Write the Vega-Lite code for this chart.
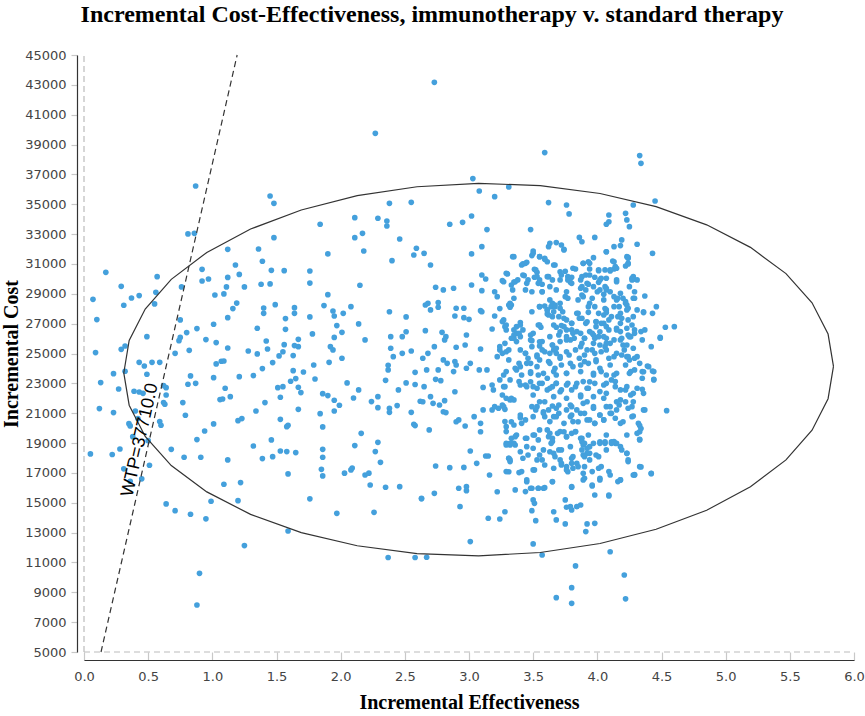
{
"$schema":"https://vega.github.io/schema/vega-lite/v6.json",
"width":770,"height":597,
"autosize":{"type":"none"},
"padding":{"left":84,"top":55,"right":11,"bottom":64},
"background":"white",
"title":{"text":"Incremental Cost-Effectiveness, immunotherapy v. standard therapy","font":"Liberation Serif","fontSize":24,"fontWeight":"bold","color":"#000","offset":22,"dx":-37},
"config":{"view":{"stroke":null}},
"datasets":{
"pts":[
{"x":0.87,"y":36220},{"x":1.45,"y":35550},{"x":1.48,"y":35060},{"x":0.81,"y":33010},{"x":0.86,"y":33050},{"x":2.38,"y":35060},{"x":2.55,"y":35130},{"x":1.84,"y":33660},{"x":2.11,"y":34100},{"x":2.29,"y":34060},{"x":2.36,"y":33880},{"x":2.36,"y":33540},{"x":2.17,"y":33050},{"x":2.11,"y":32760},{"x":2.46,"y":32670},{"x":1.48,"y":32760},{"x":1.12,"y":31980},{"x":1.36,"y":32000},{"x":2.18,"y":31870},{"x":2.59,"y":32050},{"x":2.57,"y":31600},{"x":1.90,"y":31670},{"x":2.40,"y":31220},{"x":1.39,"y":31180},{"x":1.18,"y":30930},{"x":0.17,"y":30440},{"x":0.92,"y":30640},{"x":1.46,"y":30570},{"x":1.56,"y":30550},{"x":1.76,"y":30530},{"x":1.21,"y":30300},{"x":1.12,"y":30100},{"x":0.57,"y":30150},{"x":0.92,"y":29860},{"x":0.97,"y":29990},{"x":0.29,"y":29500},{"x":0.76,"y":29460},{"x":1.11,"y":29460},{"x":1.25,"y":29460},{"x":1.38,"y":29640},{"x":1.45,"y":29660},{"x":1.76,"y":29720},{"x":2.15,"y":29570},{"x":0.56,"y":29100},{"x":0.43,"y":28880},{"x":0.37,"y":28720},{"x":0.31,"y":28230},{"x":0.55,"y":28320},{"x":0.07,"y":28630},{"x":1.02,"y":28920},{"x":1.09,"y":28990},{"x":1.90,"y":28940},{"x":1.19,"y":28380},{"x":1.16,"y":28010},{"x":1.49,"y":28270},{"x":1.40,"y":28050},{"x":1.40,"y":27690},{"x":1.64,"y":28070},{"x":1.64,"y":27690},{"x":1.87,"y":28210},{"x":1.94,"y":27850},{"x":2.08,"y":28140},{"x":2.02,"y":27690},{"x":1.95,"y":27510},{"x":0.10,"y":27270},{"x":1.12,"y":27400},{"x":1.57,"y":27340},{"x":1.76,"y":27450},{"x":2.38,"y":27800},{"x":2.51,"y":27450},{"x":0.75,"y":27250},{"x":2.14,"y":26980},{"x":1.01,"y":26960},{"x":1.97,"y":26870},{"x":1.35,"y":26690},{"x":1.57,"y":26620},{"x":2.01,"y":26420},{"x":1.78,"y":26310},{"x":0.80,"y":26400},{"x":0.88,"y":26670},{"x":0.49,"y":26130},{"x":0.75,"y":26080},{"x":0.74,"y":25860},{"x":0.95,"y":25930},{"x":1.42,"y":25840},{"x":1.03,"y":25730},{"x":1.67,"y":25950},{"x":1.95,"y":26080},{"x":2.19,"y":25910},{"x":2.39,"y":26130},{"x":2.48,"y":26130},{"x":2.51,"y":26460},{"x":1.56,"y":25590},{"x":1.64,"y":25530},{"x":1.67,"y":25460},{"x":1.12,"y":25370},{"x":1.43,"y":25300},{"x":1.92,"y":25460},{"x":1.94,"y":25240},{"x":2.39,"y":25350},{"x":0.09,"y":25060},{"x":0.29,"y":25280},{"x":0.32,"y":25500},{"x":0.82,"y":25210},{"x":1.28,"y":25170},{"x":1.55,"y":25120},{"x":0.71,"y":25010},{"x":1.35,"y":24970},{"x":1.52,"y":24840},{"x":1.63,"y":24860},{"x":2.48,"y":25010},{"x":2.55,"y":25170},{"x":2.41,"y":24790},{"x":0.43,"y":24410},{"x":0.47,"y":24160},{"x":0.53,"y":24410},{"x":0.59,"y":24410},{"x":1.47,"y":24390},{"x":1.03,"y":24300},{"x":1.07,"y":24480},{"x":1.09,"y":24500},{"x":1.79,"y":24230},{"x":1.91,"y":24410},{"x":2.01,"y":24680},{"x":2.37,"y":24210},{"x":2.37,"y":23900},{"x":0.23,"y":23650},{"x":0.32,"y":23810},{"x":0.49,"y":23610},{"x":1.39,"y":23990},{"x":1.63,"y":23850},{"x":1.71,"y":23760},{"x":2.58,"y":23740},{"x":0.83,"y":23500},{"x":1.01,"y":23380},{"x":1.21,"y":23450},{"x":1.32,"y":23520},{"x":1.65,"y":23320},{"x":1.80,"y":23290},{"x":2.35,"y":23200},{"x":0.13,"y":23050},{"x":0.81,"y":22940},{"x":0.87,"y":23000},{"x":1.51,"y":22710},{"x":1.55,"y":22780},{"x":1.61,"y":23140},{"x":1.67,"y":22740},{"x":2.05,"y":23030},{"x":2.51,"y":23030},{"x":2.58,"y":22920},{"x":2.45,"y":22560},{"x":0.27,"y":22620},{"x":0.39,"y":22470},{"x":0.43,"y":22420},{"x":0.46,"y":22330},{"x":0.62,"y":22850},{"x":0.64,"y":22710},{"x":0.64,"y":22220},{"x":1.10,"y":22670},{"x":2.14,"y":22560},{"x":0.12,"y":21310},{"x":0.23,"y":21040},{"x":0.40,"y":21150},{"x":0.62,"y":21710},{"x":0.63,"y":21600},{"x":0.77,"y":21710},{"x":1.06,"y":21910},{"x":1.08,"y":21950},{"x":1.14,"y":22110},{"x":1.41,"y":21710},{"x":1.53,"y":22070},{"x":1.69,"y":22380},{"x":1.86,"y":22310},{"x":1.90,"y":22180},{"x":1.95,"y":21870},{"x":1.99,"y":21530},{"x":2.10,"y":22020},{"x":2.24,"y":21780},{"x":2.29,"y":22110},{"x":2.29,"y":21370},{"x":2.38,"y":21330},{"x":2.38,"y":21060},{"x":2.44,"y":21510},{"x":2.55,"y":21060},{"x":2.62,"y":21800},{"x":0.35,"y":20300},{"x":0.36,"y":20150},{"x":0.42,"y":20640},{"x":0.59,"y":20440},{"x":0.60,"y":20190},{"x":0.79,"y":20860},{"x":1.01,"y":20280},{"x":1.20,"y":20500},{"x":1.23,"y":20640},{"x":1.34,"y":21150},{"x":1.53,"y":20590},{"x":1.58,"y":20100},{"x":1.59,"y":20190},{"x":1.67,"y":21260},{"x":1.84,"y":20970},{"x":1.86,"y":20080},{"x":1.95,"y":21150},{"x":2.57,"y":20260},{"x":2.58,"y":20170},{"x":0.38,"y":19430},{"x":0.50,"y":19160},{"x":0.88,"y":19230},{"x":0.94,"y":19810},{"x":1.46,"y":19210},{"x":2.16,"y":19650},{"x":0.05,"y":18270},{"x":0.22,"y":18230},{"x":0.28,"y":18600},{"x":0.68,"y":18580},{"x":0.78,"y":18050},{"x":0.91,"y":18050},{"x":1.12,"y":17870},{"x":1.32,"y":18800},{"x":1.39,"y":17960},{"x":1.47,"y":18090},{"x":1.53,"y":18470},{"x":1.58,"y":18430},{"x":1.65,"y":18360},{"x":1.86,"y":18580},{"x":1.86,"y":18050},{"x":2.11,"y":18830},{"x":2.27,"y":18430},{"x":2.29,"y":19050},{"x":2.31,"y":17710},{"x":0.51,"y":17510},{"x":0.31,"y":17270},{"x":0.45,"y":16600},{"x":0.36,"y":16440},{"x":1.59,"y":16930},{"x":1.85,"y":17240},{"x":1.86,"y":16800},{"x":2.03,"y":16980},{"x":2.08,"y":17200},{"x":2.09,"y":17330},{"x":2.19,"y":16860},{"x":2.22,"y":16980},{"x":2.63,"y":15260},{"x":1.09,"y":16240},{"x":1.22,"y":16350},{"x":2.23,"y":16190},{"x":2.35,"y":16040},{"x":2.46,"y":16080},{"x":0.64,"y":14920},{"x":0.71,"y":14470},{"x":0.83,"y":14230},{"x":0.95,"y":13920},{"x":0.99,"y":15100},{"x":1.20,"y":15140},{"x":1.76,"y":15260},{"x":1.97,"y":14290},{"x":2.26,"y":14360},{"x":1.59,"y":13110},{"x":1.25,"y":12130},{"x":2.37,"y":11330},{"x":2.58,"y":11330},{"x":2.67,"y":11350},{"x":0.90,"y":10270},{"x":0.88,"y":8150},
{"x":2.73,"y":43170},{"x":2.27,"y":39750},{"x":3.59,"y":38460},{"x":3.03,"y":36720},{"x":3.31,"y":36160},{"x":4.33,"y":38260},{"x":4.34,"y":37740},{"x":4.36,"y":27740},{"x":4.53,"y":26760},{"x":4.60,"y":26800},{"x":4.49,"y":26090},{"x":4.28,"y":29970},{"x":4.24,"y":31380},
{"x":3.08,"y":35890},{"x":3.20,"y":35510},{"x":3.62,"y":35110},{"x":3.76,"y":34950},{"x":3.78,"y":34350},{"x":4.28,"y":34950},{"x":4.45,"y":35220},{"x":4.09,"y":34280},{"x":4.07,"y":33660},{"x":4.09,"y":33830},{"x":4.22,"y":34390},{"x":4.23,"y":33950},{"x":4.25,"y":33500},{"x":2.85,"y":33660},{"x":2.95,"y":33790},{"x":3.02,"y":34210},{"x":3.14,"y":33300},{"x":3.48,"y":33300},{"x":3.86,"y":32780},{"x":3.88,"y":32490},{"x":3.98,"y":32780},{"x":4.19,"y":32610},{"x":4.18,"y":32230},{"x":4.31,"y":32320},{"x":4.13,"y":32160},{"x":4.07,"y":31820},{"x":3.63,"y":32380},{"x":3.68,"y":32430},{"x":3.72,"y":32270},{"x":3.74,"y":31980},{"x":3.62,"y":32160},{"x":3.10,"y":32160},{"x":3.02,"y":31670},{"x":2.65,"y":31710},{"x":2.70,"y":30930},{"x":3.50,"y":31870},{"x":3.49,"y":31560},{"x":3.55,"y":31490},{"x":3.59,"y":31310},{"x":3.61,"y":31150},{"x":3.34,"y":31490},{"x":3.97,"y":31420},{"x":3.93,"y":31150},{"x":3.89,"y":31040},{"x":4.23,"y":31490},{"x":4.24,"y":31040},{"x":4.12,"y":31200},{"x":4.13,"y":30660},{"x":4.15,"y":30710},{"x":4.43,"y":31710},{"x":3.42,"y":31000},{"x":3.45,"y":31110},{"x":3.51,"y":30640},{"x":3.53,"y":30440},{"x":3.67,"y":30930},{"x":3.83,"y":30660},{"x":3.75,"y":30510},{"x":3.77,"y":30150},{"x":3.94,"y":30660},{"x":4.01,"y":30550},{"x":4.06,"y":30600},{"x":3.10,"y":30260},{"x":3.13,"y":29990},{"x":3.26,"y":29880},{"x":3.30,"y":30330},{"x":3.38,"y":29930},{"x":3.35,"y":29790},{"x":3.43,"y":30220},{"x":3.46,"y":29930},{"x":3.51,"y":30110},{"x":3.55,"y":29930},{"x":3.57,"y":29640},{"x":3.62,"y":30150},{"x":3.65,"y":29930},{"x":3.71,"y":29930},{"x":3.80,"y":30110},{"x":3.79,"y":29770},{"x":3.87,"y":29930},{"x":3.91,"y":30260},{"x":3.93,"y":29640},{"x":3.98,"y":30110},{"x":4.01,"y":29770},{"x":4.03,"y":30040},{"x":4.06,"y":29480},{"x":4.10,"y":30530},{"x":4.15,"y":29930},{"x":4.28,"y":30150},{"x":4.27,"y":29930},{"x":4.22,"y":30860},{"x":2.74,"y":29440},{"x":2.80,"y":29260},{"x":2.88,"y":29370},{"x":3.02,"y":29590},{"x":3.10,"y":29210},{"x":3.20,"y":29140},{"x":3.22,"y":28810},{"x":3.33,"y":29590},{"x":3.34,"y":29260},{"x":3.44,"y":29260},{"x":3.49,"y":29140},{"x":3.57,"y":29140},{"x":3.68,"y":29260},{"x":3.76,"y":29140},{"x":3.77,"y":28700},{"x":3.88,"y":29480},{"x":3.91,"y":29260},{"x":3.88,"y":28920},{"x":3.96,"y":28700},{"x":4.02,"y":29260},{"x":4.05,"y":28970},{"x":4.07,"y":29260},{"x":4.13,"y":28810},{"x":4.15,"y":28590},{"x":4.20,"y":28700},{"x":4.22,"y":28480},{"x":4.23,"y":28250},{"x":4.29,"y":28700},{"x":4.37,"y":28850},{"x":4.46,"y":28140},{"x":2.66,"y":28250},{"x":2.68,"y":28360},{"x":2.76,"y":28410},{"x":2.76,"y":28100},{"x":2.70,"y":27920},{"x":2.90,"y":28030},{"x":2.96,"y":28030},{"x":2.89,"y":27510},{"x":2.96,"y":27400},{"x":3.00,"y":27290},{"x":3.09,"y":27870},{"x":3.24,"y":28010},{"x":3.33,"y":28250},{"x":3.32,"y":28100},{"x":3.20,"y":27510},{"x":3.55,"y":28140},{"x":3.59,"y":28180},{"x":3.61,"y":27920},{"x":3.64,"y":28140},{"x":3.67,"y":28250},{"x":3.61,"y":27650},{"x":3.65,"y":27470},{"x":3.71,"y":28030},{"x":3.73,"y":27800},{"x":3.74,"y":27360},{"x":3.84,"y":27690},{"x":3.86,"y":27360},{"x":3.93,"y":28140},{"x":3.93,"y":27760},{"x":4.01,"y":27690},{"x":4.06,"y":28010},{"x":4.07,"y":27740},{"x":4.11,"y":27470},{"x":4.17,"y":28140},{"x":4.18,"y":27690},{"x":4.19,"y":27360},{"x":4.23,"y":27920},{"x":4.24,"y":27250},{"x":4.36,"y":27800},{"x":4.43,"y":27690},{"x":3.26,"y":27140},{"x":3.28,"y":26800},{"x":3.29,"y":26580},{"x":3.37,"y":26800},{"x":3.40,"y":27070},{"x":3.18,"y":26640},{"x":3.10,"y":27800},{"x":2.66,"y":26530},{"x":2.79,"y":26420},{"x":2.82,"y":26130},{"x":2.81,"y":25910},{"x":2.90,"y":25420},{"x":2.98,"y":26240},{"x":2.97,"y":25570},{"x":3.09,"y":25300},{"x":2.73,"y":25460},{"x":2.68,"y":25010},{"x":2.64,"y":24680},{"x":3.35,"y":26580},{"x":3.37,"y":26350},{"x":3.40,"y":26130},{"x":3.37,"y":25800},{"x":3.35,"y":26020},{"x":3.48,"y":26240},{"x":3.55,"y":26910},{"x":3.56,"y":26760},{"x":3.66,"y":26910},{"x":3.68,"y":26760},{"x":3.72,"y":26870},{"x":3.76,"y":26580},{"x":3.80,"y":27020},{"x":3.80,"y":26580},{"x":3.84,"y":26470},{"x":3.91,"y":27020},{"x":3.94,"y":26470},{"x":3.99,"y":27140},{"x":3.99,"y":26800},{"x":4.05,"y":27020},{"x":4.07,"y":26800},{"x":4.09,"y":26580},{"x":4.15,"y":26690},{"x":4.18,"y":26470},{"x":4.24,"y":26240},{"x":4.27,"y":26910},{"x":4.29,"y":26580},{"x":4.34,"y":26470},{"x":4.35,"y":25910},{"x":4.37,"y":26580},{"x":4.42,"y":25460},{"x":3.49,"y":25860},{"x":3.55,"y":25500},{"x":3.57,"y":25800},{"x":3.63,"y":26130},{"x":3.65,"y":25570},{"x":3.66,"y":25240},{"x":3.70,"y":26240},{"x":3.71,"y":25800},{"x":3.76,"y":25910},{"x":3.81,"y":26350},{"x":3.82,"y":26020},{"x":3.88,"y":25680},{"x":3.90,"y":26020},{"x":3.92,"y":25240},{"x":3.97,"y":26240},{"x":3.97,"y":25680},{"x":4.01,"y":26130},{"x":4.02,"y":25570},{"x":4.06,"y":25460},{"x":4.07,"y":26020},{"x":4.10,"y":25680},{"x":4.18,"y":25910},{"x":4.20,"y":25570},{"x":4.21,"y":25240},{"x":4.26,"y":26130},{"x":4.28,"y":25350},{"x":3.24,"y":25460},{"x":3.26,"y":25010},{"x":3.29,"y":25120},{"x":3.22,"y":24790},{"x":3.44,"y":25010},{"x":3.46,"y":24680},{"x":3.48,"y":24340},{"x":3.53,"y":24900},{"x":3.55,"y":24570},{"x":3.59,"y":25120},{"x":3.62,"y":24460},{"x":3.68,"y":25010},{"x":3.71,"y":24680},{"x":3.78,"y":24900},{"x":3.79,"y":24340},{"x":3.86,"y":24680},{"x":3.90,"y":24460},{"x":3.98,"y":25010},{"x":3.99,"y":24460},{"x":4.09,"y":24680},{"x":4.15,"y":25010},{"x":4.23,"y":24790},{"x":4.25,"y":24570},{"x":4.31,"y":24790},{"x":4.33,"y":24340},{"x":4.40,"y":24120},{"x":2.80,"y":24570},{"x":2.83,"y":24340},{"x":2.89,"y":24460},{"x":2.90,"y":24230},{"x":3.01,"y":24340},{"x":2.88,"y":23790},{"x":2.98,"y":24010},{"x":3.08,"y":23900},{"x":3.14,"y":23900},{"x":2.67,"y":23900},{"x":2.76,"y":23900},{"x":3.29,"y":23790},{"x":3.37,"y":23900},{"x":3.40,"y":24120},{"x":3.48,"y":23670},{"x":3.54,"y":23560},{"x":3.66,"y":23790},{"x":3.68,"y":23560},{"x":3.76,"y":23670},{"x":3.87,"y":23790},{"x":3.97,"y":23560},{"x":4.03,"y":23790},{"x":4.13,"y":23560},{"x":4.26,"y":23790},{"x":4.35,"y":23790},{"x":4.44,"y":23790},
{"x":2.74,"y":23270},{"x":2.78,"y":23180},{"x":2.65,"y":22780},{"x":2.89,"y":22440},{"x":3.11,"y":22730},{"x":3.18,"y":22890},{"x":3.19,"y":22560},{"x":3.24,"y":23230},{"x":3.27,"y":22780},{"x":3.32,"y":23230},{"x":3.40,"y":22890},{"x":3.45,"y":22780},{"x":3.48,"y":23110},{"x":3.53,"y":22670},{"x":3.57,"y":23000},{"x":3.61,"y":22560},{"x":3.65,"y":22780},{"x":3.68,"y":23000},{"x":3.71,"y":22440},{"x":3.76,"y":22890},{"x":3.80,"y":22560},{"x":3.84,"y":23000},{"x":3.87,"y":22220},{"x":3.92,"y":22670},{"x":3.94,"y":23110},{"x":3.97,"y":22110},{"x":4.05,"y":22890},{"x":4.07,"y":22330},{"x":4.11,"y":23230},{"x":4.14,"y":22780},{"x":4.18,"y":21890},{"x":4.22,"y":22560},{"x":4.26,"y":22220},{"x":4.28,"y":21770},{"x":4.31,"y":22670},{"x":4.36,"y":22330},{"x":4.35,"y":23340},{"x":4.44,"y":23230},{"x":2.64,"y":21770},{"x":2.70,"y":22110},{"x":2.72,"y":21660},{"x":2.77,"y":21550},{"x":2.81,"y":21840},{"x":2.80,"y":21100},{"x":2.82,"y":21040},{"x":2.90,"y":20430},{"x":2.92,"y":20550},{"x":2.97,"y":20140},{"x":3.04,"y":20770},{"x":3.09,"y":20320},{"x":3.11,"y":21220},{"x":3.09,"y":19760},{"x":2.69,"y":19880},{"x":3.18,"y":21220},{"x":3.20,"y":21440},{"x":3.23,"y":21330},{"x":3.26,"y":21550},{"x":3.28,"y":21260},{"x":3.32,"y":21890},{"x":3.33,"y":22000},{"x":3.29,"y":20100},{"x":3.33,"y":20430},{"x":3.40,"y":20700},{"x":3.41,"y":20320},{"x":3.37,"y":19540},{"x":3.49,"y":21440},{"x":3.52,"y":21220},{"x":3.55,"y":21770},{"x":3.58,"y":21100},{"x":3.59,"y":20770},{"x":3.62,"y":21220},{"x":3.65,"y":21480},{"x":3.66,"y":20770},{"x":3.68,"y":21330},{"x":3.70,"y":20990},{"x":3.76,"y":21220},{"x":3.79,"y":21550},{"x":3.80,"y":20880},{"x":3.84,"y":21220},{"x":3.85,"y":20430},{"x":3.89,"y":21660},{"x":3.90,"y":20990},{"x":3.94,"y":20550},{"x":3.97,"y":21330},{"x":3.98,"y":20320},{"x":4.02,"y":20880},{"x":4.05,"y":20550},{"x":4.07,"y":21440},{"x":4.11,"y":20990},{"x":4.15,"y":21220},{"x":4.17,"y":21550},{"x":4.20,"y":20430},{"x":4.24,"y":21330},{"x":4.28,"y":20810},{"x":4.32,"y":20320},{"x":4.33,"y":19760},{"x":4.36,"y":21220},{"x":4.33,"y":19210},{"x":3.45,"y":19320},{"x":3.51,"y":19540},{"x":3.54,"y":19210},{"x":3.61,"y":19880},{"x":3.62,"y":19430},{"x":3.64,"y":18980},{"x":3.65,"y":19320},{"x":3.69,"y":19650},{"x":3.74,"y":19760},{"x":3.76,"y":19430},{"x":3.80,"y":19650},{"x":3.83,"y":19760},{"x":3.87,"y":19320},{"x":3.88,"y":19090},{"x":3.89,"y":18870},{"x":3.92,"y":18650},{"x":3.94,"y":18760},{"x":3.97,"y":18980},{"x":4.02,"y":19090},{"x":4.06,"y":19090},{"x":4.11,"y":19090},{"x":4.14,"y":18980},{"x":4.18,"y":18760},{"x":4.23,"y":18310},{"x":4.24,"y":17870},{"x":4.33,"y":17420},{"x":4.42,"y":16970},{"x":4.28,"y":16860},{"x":3.29,"y":18980},{"x":3.32,"y":18870},{"x":3.36,"y":18870},{"x":3.33,"y":19320},{"x":3.01,"y":18470},{"x":3.13,"y":18130},{"x":3.15,"y":18130},{"x":3.31,"y":17980},{"x":3.32,"y":17870},{"x":2.74,"y":17460},{"x":2.85,"y":17350},{"x":2.96,"y":17370},{"x":3.06,"y":17640},{"x":3.40,"y":18420},{"x":3.42,"y":17980},{"x":3.46,"y":18200},{"x":3.53,"y":17870},{"x":3.55,"y":18200},{"x":3.63,"y":18420},{"x":3.67,"y":18090},{"x":3.70,"y":18540},{"x":3.71,"y":17870},{"x":3.72,"y":17530},{"x":3.76,"y":17420},{"x":3.77,"y":17080},{"x":3.80,"y":17980},{"x":3.81,"y":17310},{"x":3.84,"y":17640},{"x":3.89,"y":18200},{"x":3.90,"y":17420},{"x":3.92,"y":18310},{"x":3.94,"y":17870},{"x":4.01,"y":18090},{"x":4.03,"y":17420},{"x":4.07,"y":18540},{"x":4.10,"y":16860},{"x":4.18,"y":16530},{"x":4.19,"y":18540},{"x":3.16,"y":16860},{"x":3.22,"y":15740},{"x":3.31,"y":17080},{"x":3.39,"y":17020},{"x":3.45,"y":16410},{"x":3.48,"y":15970},{"x":3.51,"y":17200},{"x":3.54,"y":15970},{"x":3.59,"y":16010},{"x":3.65,"y":16410},{"x":3.80,"y":16040},{"x":3.90,"y":16640},{"x":3.96,"y":16120},{"x":4.02,"y":16640},{"x":3.98,"y":15520},{"x":4.09,"y":15450},{"x":2.92,"y":15970},{"x":2.98,"y":16080},{"x":2.98,"y":15810},{"x":2.93,"y":14740},{"x":2.73,"y":15630},{"x":2.63,"y":15300},{"x":3.15,"y":13960},{"x":3.24,"y":13910},{"x":3.28,"y":14400},{"x":3.49,"y":14470},{"x":3.51,"y":14960},{"x":3.52,"y":13800},{"x":3.66,"y":14400},{"x":3.68,"y":13850},{"x":3.75,"y":13580},{"x":3.76,"y":14700},{"x":3.80,"y":14520},{"x":3.84,"y":14740},{"x":3.92,"y":13580},{"x":3.91,"y":13070},{"x":3.98,"y":13620},{"x":3.01,"y":12400},{"x":3.50,"y":12240},{"x":3.57,"y":11500},{"x":4.10,"y":11720},{"x":3.83,"y":10770},{"x":3.80,"y":9310},{"x":3.80,"y":8260},{"x":4.21,"y":10160},{"x":4.22,"y":8560},{"x":3.68,"y":8640},
{"x":4.49,"y":26020},{"x":4.39,"y":24160},{"x":4.43,"y":23830},{"x":4.44,"y":23270},{"x":4.36,"y":23780},{"x":4.35,"y":22600},{"x":4.54,"y":21170},{"x":4.37,"y":21220},{"x":4.33,"y":20170},{"x":4.34,"y":19970},{"x":4.33,"y":19250},{"x":4.34,"y":17400},{"x":4.29,"y":16880},{"x":4.42,"y":16950},
{"x":3.35,"y":31490},{"x":3.50,"y":31710},{"x":3.55,"y":31490},{"x":3.59,"y":31380},{"x":3.74,"y":31935},{"x":4.07,"y":31820},{"x":4.24,"y":31440},{"x":4.13,"y":31150},{"x":3.44,"y":31040},{"x":3.41,"y":30930},{"x":3.66,"y":30930},{"x":3.89,"y":31040},{"x":3.94,"y":31040},{"x":4.24,"y":31000},
{"x":3.29,"y":30370},{"x":3.36,"y":29810},{"x":3.42,"y":30260},{"x":3.52,"y":30600},{"x":3.53,"y":30150},{"x":3.61,"y":30150},{"x":3.71,"y":30480},{"x":3.72,"y":30260},{"x":3.81,"y":30710},{"x":3.88,"y":30150},{"x":3.94,"y":30260},{"x":4.01,"y":30600},{"x":4.02,"y":29930},{"x":4.07,"y":30040},{"x":4.10,"y":30600},{"x":4.14,"y":30820},{"x":4.15,"y":29810},{"x":4.27,"y":30040},{"x":4.31,"y":29930},
{"x":3.27,"y":29810},{"x":3.45,"y":29700},{"x":3.54,"y":29700},{"x":3.63,"y":29480},{"x":3.77,"y":29930},{"x":3.80,"y":29700},{"x":3.87,"y":29370},{"x":3.92,"y":29700},{"x":3.97,"y":29480},{"x":4.07,"y":29370},{"x":4.25,"y":29480},{"x":4.29,"y":29140},{"x":3.57,"y":29140},{"x":4.00,"y":29140},{"x":4.10,"y":29140},{"x":4.18,"y":29030},
{"x":3.35,"y":28700},{"x":3.32,"y":28360},{"x":3.31,"y":28250},{"x":3.49,"y":27800},{"x":3.55,"y":28140},{"x":3.63,"y":28590},{"x":3.65,"y":28360},{"x":3.67,"y":28140},{"x":3.71,"y":28360},{"x":3.75,"y":28810},{"x":3.85,"y":28590},{"x":3.89,"y":28810},{"x":3.94,"y":28360},{"x":3.98,"y":28140},{"x":4.05,"y":28590},{"x":4.07,"y":27920},{"x":4.13,"y":28140},{"x":4.16,"y":28700},{"x":4.22,"y":28360},{"x":4.28,"y":28700},{"x":4.24,"y":28030},{"x":4.31,"y":27920},
{"x":3.61,"y":27920},{"x":3.62,"y":27580},{"x":3.66,"y":27800},{"x":3.70,"y":27470},{"x":3.76,"y":27250},{"x":3.80,"y":27020},{"x":3.85,"y":27690},{"x":3.88,"y":27360},{"x":3.92,"y":27130},{"x":3.99,"y":27130},{"x":4.03,"y":27020},{"x":4.05,"y":27580},{"x":4.09,"y":27250},{"x":4.16,"y":27470},{"x":4.18,"y":27020},{"x":4.23,"y":26690},{"x":4.28,"y":27470},{"x":3.27,"y":27250},{"x":3.29,"y":26910},{"x":3.40,"y":26910},{"x":3.42,"y":26580},{"x":3.54,"y":26910},{"x":3.74,"y":26800},
{"x":3.35,"y":26240},{"x":3.39,"y":26350},{"x":3.33,"y":26020},{"x":3.50,"y":26350},{"x":3.48,"y":25910},{"x":3.55,"y":25790},{"x":3.65,"y":25570},{"x":3.71,"y":26460},{"x":3.76,"y":26130},{"x":3.79,"y":25910},{"x":3.87,"y":26350},{"x":3.90,"y":26020},{"x":3.96,"y":26350},{"x":3.98,"y":26020},{"x":4.02,"y":26460},{"x":4.05,"y":26130},{"x":4.07,"y":25680},{"x":4.13,"y":25910},{"x":4.15,"y":26580},{"x":4.19,"y":26020},{"x":4.25,"y":26130},{"x":4.29,"y":26350},{"x":4.23,"y":25570},{"x":3.28,"y":25680},
{"x":3.24,"y":25240},{"x":3.31,"y":25240},{"x":3.40,"y":25240},{"x":3.44,"y":25010},{"x":3.49,"y":25460},{"x":3.53,"y":24790},{"x":3.57,"y":25240},{"x":3.63,"y":25010},{"x":3.68,"y":25350},{"x":3.71,"y":24790},{"x":3.76,"y":25120},{"x":3.83,"y":25240},{"x":3.87,"y":25460},{"x":3.90,"y":24900},{"x":3.96,"y":25240},{"x":3.99,"y":24570},{"x":4.03,"y":25120},{"x":4.07,"y":25240},{"x":4.13,"y":24790},{"x":4.19,"y":24900},{"x":4.24,"y":24790},{"x":4.29,"y":24680},{"x":3.31,"y":24570},
{"x":3.36,"y":24010},{"x":3.39,"y":24340},{"x":3.45,"y":24340},{"x":3.48,"y":23780},{"x":3.53,"y":24120},{"x":3.58,"y":23670},{"x":3.63,"y":24340},{"x":3.67,"y":24010},{"x":3.72,"y":24230},{"x":3.76,"y":23670},{"x":3.81,"y":24120},{"x":3.87,"y":24230},{"x":3.93,"y":24340},{"x":3.97,"y":23670},{"x":4.02,"y":24010},{"x":4.07,"y":23560},{"x":4.10,"y":24230},{"x":4.15,"y":23670},{"x":4.22,"y":24230},{"x":4.25,"y":23670},{"x":4.29,"y":23900},{"x":3.27,"y":23560},{"x":3.41,"y":23560},
{"x":3.28,"y":22780},{"x":3.39,"y":23120},{"x":3.44,"y":22890},{"x":3.50,"y":22780},{"x":3.55,"y":23000},{"x":3.61,"y":23340},{"x":3.63,"y":22670},{"x":3.68,"y":23000},{"x":3.72,"y":22560},{"x":3.77,"y":23000},{"x":3.83,"y":22780},{"x":3.89,"y":23120},{"x":3.93,"y":22670},{"x":3.98,"y":23000},{"x":4.02,"y":22450},{"x":4.07,"y":23000},{"x":4.14,"y":23120},{"x":4.18,"y":22560},{"x":4.23,"y":22780},{"x":4.28,"y":22330},{"x":3.26,"y":22220},
{"x":3.29,"y":22000},{"x":3.35,"y":21890},{"x":3.50,"y":22220},{"x":3.53,"y":21440},{"x":3.59,"y":21770},{"x":3.66,"y":22110},{"x":3.70,"y":21550},{"x":3.76,"y":22000},{"x":3.80,"y":21440},{"x":3.87,"y":22110},{"x":3.92,"y":21770},{"x":3.97,"y":21440},{"x":4.05,"y":22000},{"x":4.10,"y":21440},{"x":4.15,"y":21770},{"x":4.22,"y":21770},{"x":4.27,"y":21440},{"x":3.27,"y":21440},
{"x":3.28,"y":20440},{"x":3.35,"y":20210},{"x":3.40,"y":20880},{"x":3.44,"y":20550},{"x":3.50,"y":20770},{"x":3.58,"y":20990},{"x":3.63,"y":20440},{"x":3.68,"y":20770},{"x":3.74,"y":20320},{"x":3.79,"y":20770},{"x":3.81,"y":20440},{"x":3.87,"y":20990},{"x":3.92,"y":20550},{"x":3.98,"y":20320},{"x":4.02,"y":20880},{"x":4.05,"y":20550},{"x":4.10,"y":20990},{"x":4.14,"y":20660},{"x":4.18,"y":20320},{"x":4.27,"y":20770},
{"x":3.29,"y":19770},{"x":3.36,"y":19430},{"x":3.32,"y":18980},{"x":3.44,"y":19320},{"x":3.50,"y":19540},{"x":3.55,"y":19880},{"x":3.63,"y":19650},{"x":3.65,"y":19100},{"x":3.71,"y":19770},{"x":3.76,"y":19430},{"x":3.83,"y":19770},{"x":3.88,"y":19320},{"x":3.90,"y":18980},{"x":3.93,"y":19540},{"x":4.02,"y":18980},{"x":4.07,"y":19540},{"x":4.13,"y":19100},{"x":4.15,"y":18980},{"x":4.23,"y":19540},{"x":4.31,"y":19650},
{"x":3.29,"y":18870},{"x":3.35,"y":18980},{"x":3.45,"y":18760},{"x":3.50,"y":18650},{"x":3.58,"y":18540},{"x":3.66,"y":18310},{"x":3.72,"y":18540},{"x":3.79,"y":18760},{"x":3.81,"y":18090},{"x":3.88,"y":18540},{"x":3.90,"y":18090},{"x":3.94,"y":18310},{"x":3.99,"y":18200},{"x":4.06,"y":18980},{"x":4.11,"y":18980},{"x":4.23,"y":18310},{"x":3.31,"y":17980},
{"x":3.32,"y":17760},{"x":3.41,"y":17090},{"x":3.50,"y":17200},{"x":3.57,"y":17870},{"x":3.59,"y":17530},{"x":3.66,"y":17310},{"x":3.72,"y":17640},{"x":3.76,"y":17200},{"x":3.80,"y":17640},{"x":3.85,"y":17420},{"x":3.89,"y":16970},{"x":3.96,"y":17090},{"x":4.01,"y":17310},{"x":4.09,"y":17090},{"x":4.18,"y":16530},{"x":4.24,"y":17760},{"x":4.29,"y":16860},{"x":3.29,"y":17090},{"x":3.45,"y":16530},
{"x":3.36,"y":15860},{"x":3.44,"y":15750},{"x":3.49,"y":15970},{"x":3.54,"y":15970},{"x":3.58,"y":15970},{"x":3.65,"y":16420},{"x":3.75,"y":15190},{"x":3.80,"y":16080},{"x":3.89,"y":16530},{"x":3.96,"y":16190},{"x":4.02,"y":16530},{"x":4.09,"y":15520},{"x":4.16,"y":16420},{"x":3.50,"y":15190},{"x":3.79,"y":14740},{"x":3.87,"y":14850}
],
"ell":[
{"i":0,"x":5.840,"y":24140},{"i":1,"x":5.798,"y":26304},{"i":2,"x":5.673,"y":28395},{"i":3,"x":5.470,"y":30351},{"i":4,"x":5.193,"y":32111},{"i":5,"x":4.852,"y":33621},{"i":6,"x":4.458,"y":34838},{"i":7,"x":4.021,"y":35722},{"i":8,"x":3.555,"y":36248},{"i":9,"x":3.075,"y":36400},{"i":10,"x":2.595,"y":36172},{"i":11,"x":2.129,"y":35572},{"i":12,"x":1.693,"y":34618},{"i":13,"x":1.298,"y":33339},{"i":14,"x":0.957,"y":31773},{"i":15,"x":0.680,"y":29969},{"i":16,"x":0.477,"y":27981},{"i":17,"x":0.352,"y":25870},{"i":18,"x":0.310,"y":23700},{"i":19,"x":0.352,"y":21536},{"i":20,"x":0.477,"y":19445},{"i":21,"x":0.680,"y":17489},{"i":22,"x":0.957,"y":15729},{"i":23,"x":1.298,"y":14219},{"i":24,"x":1.693,"y":13002},{"i":25,"x":2.129,"y":12118},{"i":26,"x":2.595,"y":11592},{"i":27,"x":3.075,"y":11440},{"i":28,"x":3.555,"y":11668},{"i":29,"x":4.021,"y":12268},{"i":30,"x":4.458,"y":13222},{"i":31,"x":4.852,"y":14501},{"i":32,"x":5.193,"y":16067},{"i":33,"x":5.470,"y":17871},{"i":34,"x":5.673,"y":19859},{"i":35,"x":5.798,"y":21970},{"i":36,"x":5.840,"y":24140}
],
"wtp":[{"x":0.1326,"y":5000},{"x":1.1933,"y":45000}]
},
"encoding":{
"x":{"field":"x","type":"quantitative","scale":{"domain":[0,6],"nice":false,"zero":false},
"axis":{"title":"Incremental Effectiveness","values":[0,0.5,1,1.5,2,2.5,3,3.5,4,4.5,5,5.5,6],"format":".1f","grid":false,"offset":8,"domainColor":"#333","domainWidth":1.2,"tickColor":"#c8c8c8","tickWidth":1.2,"tickSize":-8,"labelPadding":18,"labelFlush":false,"labelFont":"DejaVu Sans","labelFontSize":13,"labelColor":"#444","titleFont":"Liberation Serif","titleFontSize":20,"titleFontWeight":"bold","titleColor":"#000","titlePadding":9}},
"y":{"field":"y","type":"quantitative","scale":{"domain":[5000,45000],"nice":false,"zero":false},
"axis":{"title":"Incremental Cost","values":[5000,7000,9000,11000,13000,15000,17000,19000,21000,23000,25000,27000,29000,31000,33000,35000,37000,39000,41000,43000,45000],"format":"d","grid":false,"offset":7,"domainColor":"#333","domainWidth":1.2,"tickColor":"#c8c8c8","tickWidth":1.2,"tickSize":6,"labelPadding":5,"labelFlush":false,"labelFont":"DejaVu Sans","labelFontSize":13,"labelColor":"#444","titleFont":"Liberation Serif","titleFontSize":20,"titleFontWeight":"bold","titleColor":"#000","titlePadding":3}}
},
"layer":[
{"data":{"values":[{"x":0,"y":5000,"y2":45000}]},"mark":{"type":"rule","color":"#bbbbbb","strokeDash":[6,4],"strokeWidth":1.2},"encoding":{"y2":{"field":"y2"}}},
{"data":{"values":[{"x":0,"x2":6,"y":5000}]},"mark":{"type":"rule","color":"#bbbbbb","strokeDash":[6,4],"strokeWidth":1.2},"encoding":{"x2":{"field":"x2"}}},
{"data":{"name":"pts"},"mark":{"type":"circle","size":32,"opacity":1,"color":"#44a0dc"}},
{"data":{"name":"ell"},"mark":{"type":"line","color":"#333","strokeWidth":1.2},"encoding":{"order":{"field":"i","type":"quantitative"}}},
{"data":{"name":"wtp"},"mark":{"type":"line","color":"#333","strokeWidth":1.2,"strokeDash":[6,4]},"encoding":{}},
{"data":{"values":[{"x":0.5057,"y":19070,"label":"WTP=37710.0"}]},"mark":{"type":"text","angle":282.8,"baseline":"bottom","align":"center","font":"Liberation Sans","fontSize":18,"color":"#000"},"encoding":{"text":{"field":"label"}}}
]
}
